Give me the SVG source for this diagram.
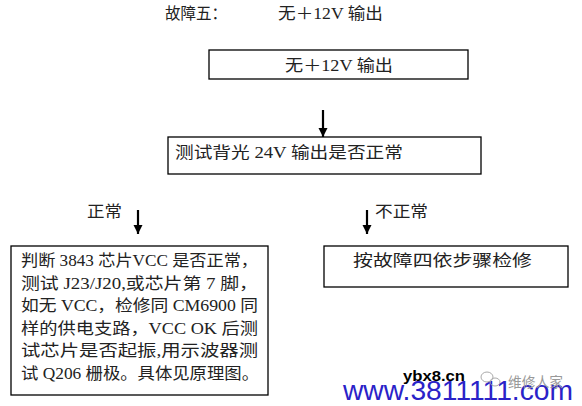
<svg xmlns="http://www.w3.org/2000/svg" width="582" height="406" viewBox="0 0 582 406">
<style>
.t{font-family:"Liberation Serif","Noto Sans CJK SC",serif;font-size:16px;fill:#222}
.box{fill:#fff;stroke:#000;stroke-width:1.3}
.arr{stroke:#000;stroke-width:2.2;fill:none}
</style>
<defs>
<marker id="ah" viewBox="0 0 10 10" refX="10" refY="5" markerWidth="4.2" markerHeight="4.2" markerUnits="strokeWidth" orient="auto">
<path d="M0,0 L10,5 L0,10 z" fill="#000"/>
</marker>
</defs>
<rect width="582" height="406" fill="#fff"/>
<g id="title">
<text class="t" x="165" y="19" textLength="62" lengthAdjust="spacingAndGlyphs">故障五：</text>
<text class="t" x="278" y="19" textLength="105" lengthAdjust="spacingAndGlyphs">无＋12V 输出</text>
</g>
<g id="n1">
<rect class="box" x="209" y="50" width="259" height="29"/>
<text class="t" x="285" y="71" textLength="108" lengthAdjust="spacingAndGlyphs">无＋12V 输出</text>
</g>
<g id="n2">
<rect class="box" x="168" y="137" width="313" height="37"/>
<text class="t" x="175" y="158" textLength="228" lengthAdjust="spacingAndGlyphs">测试背光 24V 输出是否正常</text>
</g>
<g id="n3">
<rect class="box" x="11" y="246" width="257" height="149"/>
<text class="t" x="21" y="266" textLength="237" lengthAdjust="spacingAndGlyphs">判断 3843 芯片VCC 是否正常，</text>
<text class="t" x="21" y="288.5" textLength="237" lengthAdjust="spacingAndGlyphs">测试 J23/J20,或芯片第 7 脚，</text>
<text class="t" x="21" y="311" textLength="237" lengthAdjust="spacingAndGlyphs">如无 VCC，检修同 CM6900 同</text>
<text class="t" x="21" y="333.5" textLength="237" lengthAdjust="spacingAndGlyphs">样的供电支路，VCC OK 后测</text>
<text class="t" x="21" y="356" textLength="237" lengthAdjust="spacingAndGlyphs">试芯片是否起振,用示波器测</text>
<text class="t" x="21" y="378.5" textLength="238" lengthAdjust="spacingAndGlyphs">试 Q206 栅极。具体见原理图。</text>
</g>
<g id="n4">
<rect class="box" x="324" y="246" width="244" height="41"/>
<text class="t" x="353" y="266" textLength="179" lengthAdjust="spacingAndGlyphs">按故障四依步骤检修</text>
</g>
<g id="connectors">
<line class="arr" x1="323" y1="110" x2="323" y2="137" marker-end="url(#ah)"/>
<line class="arr" x1="138" y1="210" x2="138" y2="234" marker-end="url(#ah)"/>
<line class="arr" x1="367" y1="210" x2="367" y2="234" marker-end="url(#ah)"/>
<text class="t" x="87" y="217" textLength="35" lengthAdjust="spacingAndGlyphs">正常</text>
<text class="t" x="375" y="217" textLength="53" lengthAdjust="spacingAndGlyphs">不正常</text>
</g>
<g id="watermark">
<text x="343" y="400" font-family="Liberation Sans,sans-serif" font-size="27" fill="#2a22c8" textLength="230" lengthAdjust="spacingAndGlyphs">www.3811111.com</text>
<text x="403" y="381" font-family="Liberation Sans,sans-serif" font-size="14" font-weight="bold" fill="#000" textLength="62" lengthAdjust="spacingAndGlyphs">ybx8.cn</text>
<ellipse cx="487" cy="377" rx="6" ry="5" fill="none" stroke="#aaa" stroke-width="1"/>
<ellipse cx="495" cy="382" rx="5" ry="4" fill="none" stroke="#aaa" stroke-width="1"/>
<text x="508" y="387" font-family="Noto Sans CJK SC,sans-serif" font-size="14" fill="#999" textLength="55" lengthAdjust="spacingAndGlyphs">维修人家</text>
</g>
</svg>
